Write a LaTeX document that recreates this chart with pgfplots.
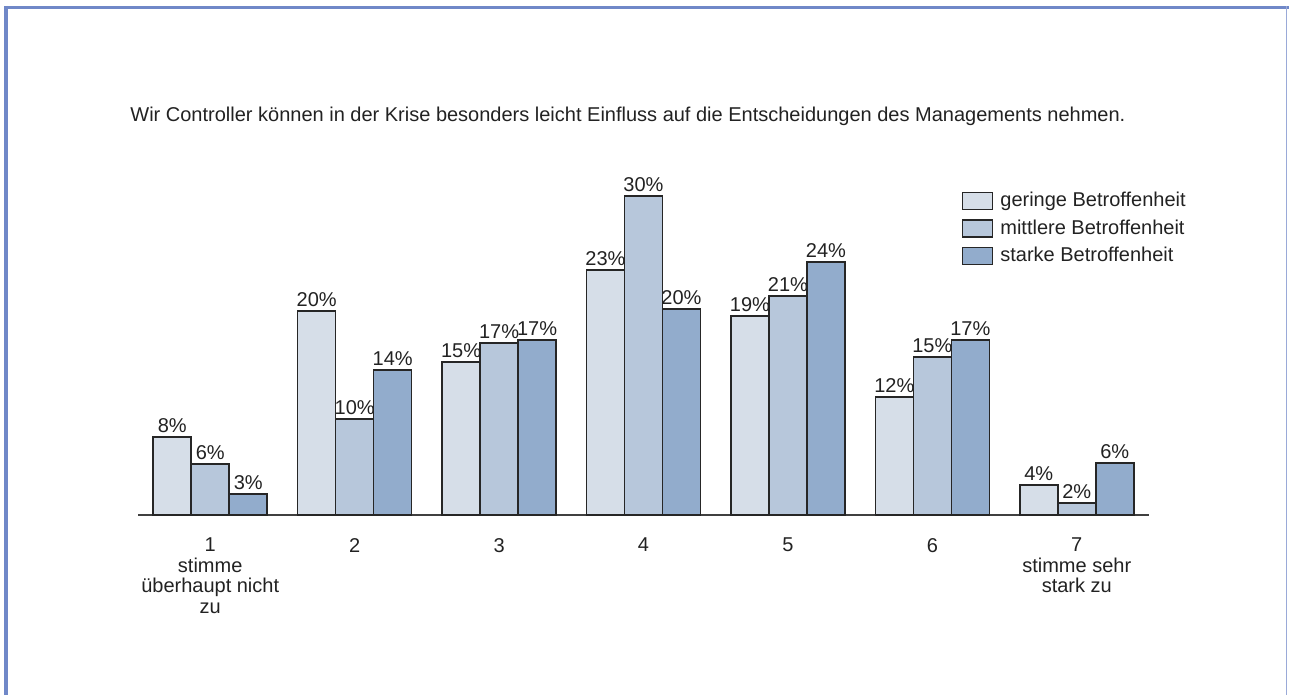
\documentclass[border=0pt]{standalone}
\usepackage{pgfplots}
\pgfplotsset{compat=1.18}
\usepackage{fontspec}
\setmainfont{Liberation Sans}
\definecolor{cA}{HTML}{D6DEE8}
\definecolor{cB}{HTML}{B7C7DB}
\definecolor{cC}{HTML}{92ACCC}
\definecolor{frameL}{HTML}{7088C8}
\definecolor{frameR}{HTML}{9AAAD8}
\definecolor{txt}{HTML}{222222}
\begin{document}
\begin{tikzpicture}
\newcommand{\f}{\fontsize{10}{10.2}\selectfont}
\useasboundingbox (0,0) rectangle (645pt,-347.5pt);
% frame
\draw[frameL, line width=2pt] (3pt,-3pt) -- (3pt,-347.5pt);
\draw[frameL, line width=1.5pt] (2pt,-3.75pt) -- (644.5pt,-3.75pt);
\draw[frameR, line width=0.75pt] (643.25pt,-3pt) -- (643.25pt,-347.5pt);
% title
\node[anchor=west, inner sep=0pt, text=txt, font=\f] at (65pt,-58pt)
  {Wir Controller können in der Krise besonders leicht Einfluss auf die Entscheidungen des Managements nehmen.};
\begin{axis}[
  at={(69pt,-257.5pt)}, anchor=south west,
  scale only axis, width=505.5pt, height=181.6pt,
  xmin=-0.5, xmax=6.5, ymin=1.1, ymax=34,
  enlargelimits=false,
  axis x line=bottom, axis y line=none,
  axis line style={-, draw=black!75, line width=0.75pt},
  ybar=0pt, bar width=19pt,
  xtick={0,1,2,3,4,5,6},
  xticklabels={{1\\stimme\\überhaupt nicht\\zu},2,3,4,5,6,{7\\stimme sehr\\stark zu}},
  xticklabel style={align=center, font=\f, text=txt, yshift=-8pt},
  major tick length=0pt,
  /pgf/number format/assume math mode=true,
  nodes near coords={\pgfmathprintnumber[fixed,precision=0]{\pgfplotspointmeta}\%},
  every node near coord/.append style={font=\f, text=txt, inner sep=2pt},
  legend style={at={(axis cs:5.2,30.75)}, anchor=north west, draw=none, fill=none,
    font=\f, text=txt, row sep=1pt, inner sep=0pt},
  legend cell align=left,
  legend image code/.code={\draw[#1, line width=0.75pt] (0pt,-4.25pt) rectangle (15pt,4.25pt);
    \path[draw=none, fill=none] (0pt,0pt) -- (17pt,0pt);},
  /tikz/every even column/.style={column sep=0pt},
]
\addplot[fill=cA, draw=black!85, line width=0.75pt] coordinates {(0,8.16) (1,19.57) (2,14.95) (3,23.29) (4,19.12) (5,11.78) (6,3.81)};
\addplot[fill=cB, draw=black!85, line width=0.75pt] coordinates {(0,5.71) (1,9.79) (2,16.68) (3,29.99) (4,20.93) (5,15.41) (6,2.18)};
\addplot[fill=cC, draw=black!85, line width=0.75pt] coordinates {(0,3.0) (1,14.23) (2,16.95) (3,19.76) (4,24.0) (5,16.95) (6,5.81)};
\legend{geringe Betroffenheit, mittlere Betroffenheit, starke Betroffenheit}
\end{axis}
\end{tikzpicture}
\end{document}
